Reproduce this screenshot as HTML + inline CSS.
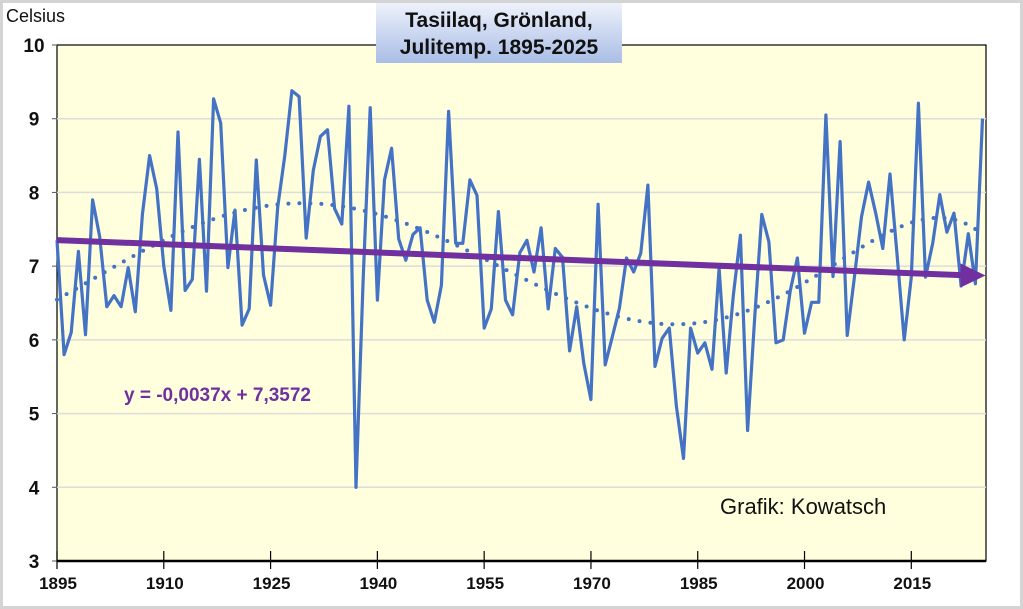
<!DOCTYPE html>
<html><head><meta charset="utf-8"><style>
body{margin:0;background:#fff;}
svg{display:block;font-family:"Liberation Sans",sans-serif;}
</style></head><body>
<svg id="chart" width="1023" height="609" viewBox="0 0 1023 609" xmlns="http://www.w3.org/2000/svg">
<rect x="1.5" y="1.5" width="1020" height="606" fill="#fff" stroke="#d4d4d4" stroke-width="3"/>
<rect x="57" y="45" width="929" height="516" fill="#ffffdd" stroke="#000" stroke-width="1.2"/>
<g id="grid"></g>
<g id="series"></g>
<text x="6" y="22" font-size="18" fill="#111">Celsius</text>
<text x="124" y="401" font-size="19" font-weight="bold" fill="#7030a0">y = -0,0037x + 7,3572</text>
<text x="720" y="514" font-size="22" fill="#111">Grafik: Kowatsch</text>
<defs><linearGradient id="tg" x1="0" y1="0" x2="0" y2="1"><stop offset="0" stop-color="#eef2fb"/><stop offset="1" stop-color="#a9bde6"/></linearGradient></defs>
<rect x="376" y="3" width="246" height="60" fill="url(#tg)"/>
<text x="499" y="27" font-size="21" font-weight="bold" text-anchor="middle" fill="#111">Tasiilaq, Grönland,</text>
<text x="499" y="54" font-size="21" font-weight="bold" text-anchor="middle" fill="#111">Julitemp. 1895-2025</text>
</svg>
<script>
const startYear = 1895;
const temps = [7.35,5.8,6.1,7.2,6.07,7.9,7.4,6.45,6.6,6.45,6.98,6.38,7.7,8.5,8.05,7.0,6.4,8.82,6.67,6.82,
8.45,6.66,9.27,8.94,6.98,7.76,6.2,6.42,8.44,6.88,6.47,7.8,8.5,9.38,9.3,7.38,8.3,8.76,8.85,7.78,
7.57,9.17,4.0,6.8,9.15,6.54,8.17,8.6,7.37,7.08,7.43,7.52,6.54,6.24,6.74,9.1,7.31,7.31,8.17,7.96,
6.16,6.42,7.74,6.54,6.34,7.18,7.35,6.92,7.52,6.42,7.24,7.12,5.85,6.45,5.68,5.19,7.84,5.66,6.04,6.43,
7.11,6.92,7.18,8.1,5.64,6.02,6.16,5.1,4.39,6.16,5.82,5.96,5.6,6.97,5.55,6.6,7.42,4.77,6.3,7.7,
7.33,5.96,6.0,6.67,7.11,6.09,6.51,6.51,9.05,6.86,8.69,6.06,6.85,7.67,8.14,7.72,7.24,8.25,7.15,6.0,
6.85,9.21,6.85,7.31,7.97,7.46,7.72,6.73,7.44,6.76,9.0];
const yTicks = [3,4,5,6,7,8,9,10];
const xTicks = [1895,1910,1925,1940,1955,1970,1985,2000,2015];
const trendSlope = -0.0037;
const trendIntercept = 7.3572;

const NS="http://www.w3.org/2000/svg";
const X0=57,X1=982.5,Y0=561,Y1=45;
const endYear = startYear + temps.length - 1;
function xs(yr){return X0+(yr-startYear)*(X1-X0)/(endYear-startYear);}
function ys(v){return Y0-(v-3)*(Y0-Y1)/7;}
function mk(tag,attrs,parent){const e=document.createElementNS(NS,tag);for(const k in attrs)e.setAttribute(k,attrs[k]);parent.appendChild(e);return e;}
const grid=document.getElementById('grid'),ser=document.getElementById('series');

yTicks.forEach(v=>{
  if(v>3&&v<10){const g=mk('line',{x1:X0,x2:986,y1:ys(v),y2:ys(v),stroke:'#dcdcdc','stroke-width':1.5},grid);
  
  }
  const t=mk('line',{x1:X0-5,x2:X0,y1:ys(v),y2:ys(v),stroke:'#555','stroke-width':1},grid);
  
  
  const l=mk('text',{x:34,y:ys(v)+7,'font-size':19,'font-weight':'bold','text-anchor':'middle',fill:'#111'},grid);
  l.textContent=v;
  
  
});
const ax=mk('line',{x1:X0,x2:986,y1:Y0,y2:Y0,stroke:'#000','stroke-width':2.5},grid);


xTicks.forEach(yr=>{
  const t=mk('line',{x1:xs(yr),x2:xs(yr),y1:Y0-10,y2:Y0+8,stroke:'#000','stroke-width':1.2},grid);
  
  
  const l=mk('text',{x:xs(yr)+1,y:589,'font-size':17,'font-weight':'bold','text-anchor':'middle',fill:'#111'},grid);
  l.textContent=yr;
  
  
});

// polynomial trend (degree 6 least squares)
const n=temps.length,deg=6;
const tn=i=>(2*i/(n-1))-1;
const A=[],B=[];
for(let r=0;r<=deg;r++){A.push(new Array(deg+1).fill(0));B.push(0);}
temps.forEach((v,i)=>{const t=tn(i);for(let r=0;r<=deg;r++){B[r]+=v*Math.pow(t,r);for(let c=0;c<=deg;c++)A[r][c]+=Math.pow(t,r+c);}});
for(let p=0;p<=deg;p++){for(let r=p+1;r<=deg;r++){const f=A[r][p]/A[p][p];for(let c=p;c<=deg;c++)A[r][c]-=f*A[p][c];B[r]-=f*B[p];}}
const co=new Array(deg+1).fill(0);
for(let r=deg;r>=0;r--){let s=B[r];for(let c=r+1;c<=deg;c++)s-=A[r][c]*co[c];co[r]=s/A[r][r];}
let pd='';
for(let i=0;i<n;i++){const t=tn(i);let v=0;for(let r=0;r<=deg;r++)v+=co[r]*Math.pow(t,r);pd+=(i?'L':'M')+xs(startYear+i).toFixed(1)+','+ys(v).toFixed(1);}
const poly=mk('path',{d:pd,fill:'none',stroke:'#4472c4','stroke-width':4,'stroke-dasharray':'0 11','stroke-linecap':'round'},ser);



let d='';
temps.forEach((v,i)=>{d+=(i?'L':'M')+xs(startYear+i).toFixed(1)+','+ys(v).toFixed(1);});
const line=mk('path',{d:d,fill:'none',stroke:'#4472c4','stroke-width':3.2,'stroke-linejoin':'round'},ser);



const ya=trendIntercept+trendSlope*1, yb=trendIntercept+trendSlope*n;
const xa=xs(startYear), xb=xs(endYear);
const lt=mk('line',{x1:xa,y1:ys(ya),x2:xb-18,y2:ys(yb)-0.3,stroke:'#7030a0','stroke-width':6},ser);


const ah=mk('polygon',{points:`${xb+3},${ys(yb)} ${xb-22},${ys(yb)-12} ${xb-22},${ys(yb)+12}`,fill:'#7030a0'},ser);


</script>
</body></html>
